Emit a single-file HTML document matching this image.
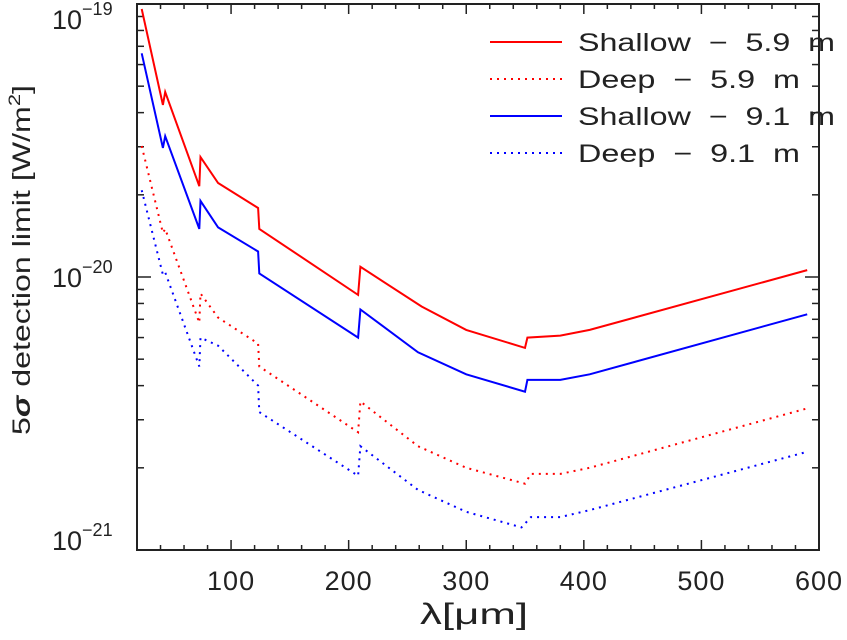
<!DOCTYPE html>
<html><head><meta charset="utf-8"><style>
html,body{margin:0;padding:0;background:#fff}
svg{display:block;font-family:"Liberation Sans",sans-serif}
</style></head><body>
<svg id="chart" width="847" height="640" viewBox="0 0 847 640">
<g id="axes"></g>
<g id="series"></g>
<g id="legend"></g>
<text x="420" y="624" font-size="30" textLength="108" lengthAdjust="spacingAndGlyphs" fill="#222">λ[μm]</text>
<text transform="translate(30,260) rotate(-90)" font-size="25" text-anchor="middle" textLength="350" lengthAdjust="spacingAndGlyphs" fill="#222">5<tspan font-style="italic" font-weight="bold">σ</tspan> detection limit  [W/m<tspan dy="-10" font-size="17">2</tspan><tspan dy="10">]</tspan></text>
</svg>
<script>
// data (values in units of 1e-21 W/m^2)
const lamRS=[24,42,44,73,74,89,123,124,208,210,262,300,350,352,380,405,590];
const valRS=[95.9,42.7,47.6,21.5,27.5,22.1,17.9,15.0,8.6,10.9,7.8,6.4,5.5,6.0,6.1,6.4,10.6];
const lamRD=[24,42,44,73,74,89,123,124,208,210,259,300,350,355,380,405,590];
const valRD=[30.2,14.5,15.0,6.8,8.7,7.1,5.7,4.7,2.7,3.5,2.4,2.0,1.75,1.9,1.9,2.0,3.3];
const lamBS=[24,42,44,73,74,89,123,124,208,210,259,300,350,352,380,405,590];
const valBS=[66,29.7,32.8,15.0,19.0,15.2,12.4,10.3,6.0,7.6,5.3,4.4,3.8,4.2,4.2,4.4,7.3];
const lamBD=[24,42,44,73,74,89,123,124,208,210,259,300,347,355,380,405,590];
const valBD=[20.8,10.2,10.4,4.7,6.0,5.6,4.0,3.2,1.87,2.4,1.66,1.38,1.21,1.32,1.32,1.40,2.29];
const xTicks=[100,200,300,400,500,600];
const yTickExp=[-21,-20,-19];

const L=137,R=819,T=4,B=550,XMIN=20,XMAX=600;
const NS='http://www.w3.org/2000/svg';
function sx(v){return L+(v-XMIN)/(XMAX-XMIN)*(R-L);}
function sy(v){return B-Math.log10(v)/2*(B-T);}
function mk(tag,attrs,parent){const e=document.createElementNS(NS,tag);for(const k in attrs)e.setAttribute(k,attrs[k]);parent.appendChild(e);return e;}
const ax=document.getElementById('axes');
const frame=mk('rect',{x:L,y:T,width:R-L,height:B-T,fill:'none',stroke:'#222','stroke-width':2},ax);


for(let v=20;v<=600;v+=20){
  const maj=v%100===0, len=maj?10:5, x=sx(v);
  const t1=mk('line',{x1:x,x2:x,y1:B,y2:B-len,stroke:'#222','stroke-width':1.5},ax);
  
  
  const t2=mk('line',{x1:x,x2:x,y1:T,y2:T+len,stroke:'#222','stroke-width':1.5},ax);
  
  
}
xTicks.forEach(v=>{
  const t=mk('text',{x:sx(v),y:590,'font-size':27,'text-anchor':'middle',fill:'#222','letter-spacing':1},ax);
  t.textContent=v;
  
  
});
for(let d=0;d<2;d++){for(let m=1;m<=10;m++){
  if(d===1&&m===1)continue;
  const v=Math.pow(10,d)*m, y=sy(v), len=(m===1||m===10)?14:7;
  const a=mk('line',{x1:L,x2:L+len,y1:y,y2:y,stroke:'#222','stroke-width':1.5},ax);
  
  
  const b=mk('line',{x1:R,x2:R-len,y1:y,y2:y,stroke:'#222','stroke-width':1.5},ax);
  
  
}}
yTickExp.forEach(e=>{
  const y=sy(Math.pow(10,e+21));
  const base=Math.min(Math.max(y+10,29),550);
  const t=mk('text',{x:52,y:base,'font-size':27,fill:'#222'},ax);
  t.innerHTML='10<tspan dy="-14" font-size="18">\u2212'+(-e)+'</tspan>';
  
  
});
const sg=document.getElementById('series');
function line(lam,val,color,dotted,name){
  const pts=lam.map((l,i)=>sx(l).toFixed(1)+','+sy(val[i]).toFixed(1)).join(' ');
  const p=mk('polyline',{points:pts,fill:'none',stroke:color,'stroke-width':2,'stroke-dasharray':dotted?'2 5':'none'},sg);
  
  
}
line(lamRS,valRS,'#f00',false,'shallow-5-9m-line');
line(lamRD,valRD,'#f00',true,'deep-5-9m-line');
line(lamBS,valBS,'#00f',false,'shallow-9-1m-line');
line(lamBD,valBD,'#00f',true,'deep-9-1m-line');
const lg=document.getElementById('legend');
const leg=[['Shallow  \u2212  5.9  m','#f00',false,257],['Deep  \u2212  5.9  m','#f00',true,222],['Shallow  \u2212  9.1  m','#00f',false,257],['Deep  \u2212  9.1  m','#00f',true,222]];
leg.forEach((e,i)=>{
  const y=42+i*37;
  const g=mk('g',{},lg);
  
  
  mk('line',{x1:490,x2:562,y1:y,y2:y,stroke:e[1],'stroke-width':2,'stroke-dasharray':e[2]?'2 5':'none'},g);
  const t=mk('text',{x:578,y:y+9,'font-size':25,fill:'#222',textLength:e[3],lengthAdjust:'spacingAndGlyphs','xml:space':'preserve'},g);
  t.setAttribute('style','white-space:pre');
  t.textContent=e[0];
});
</script>
</body></html>
